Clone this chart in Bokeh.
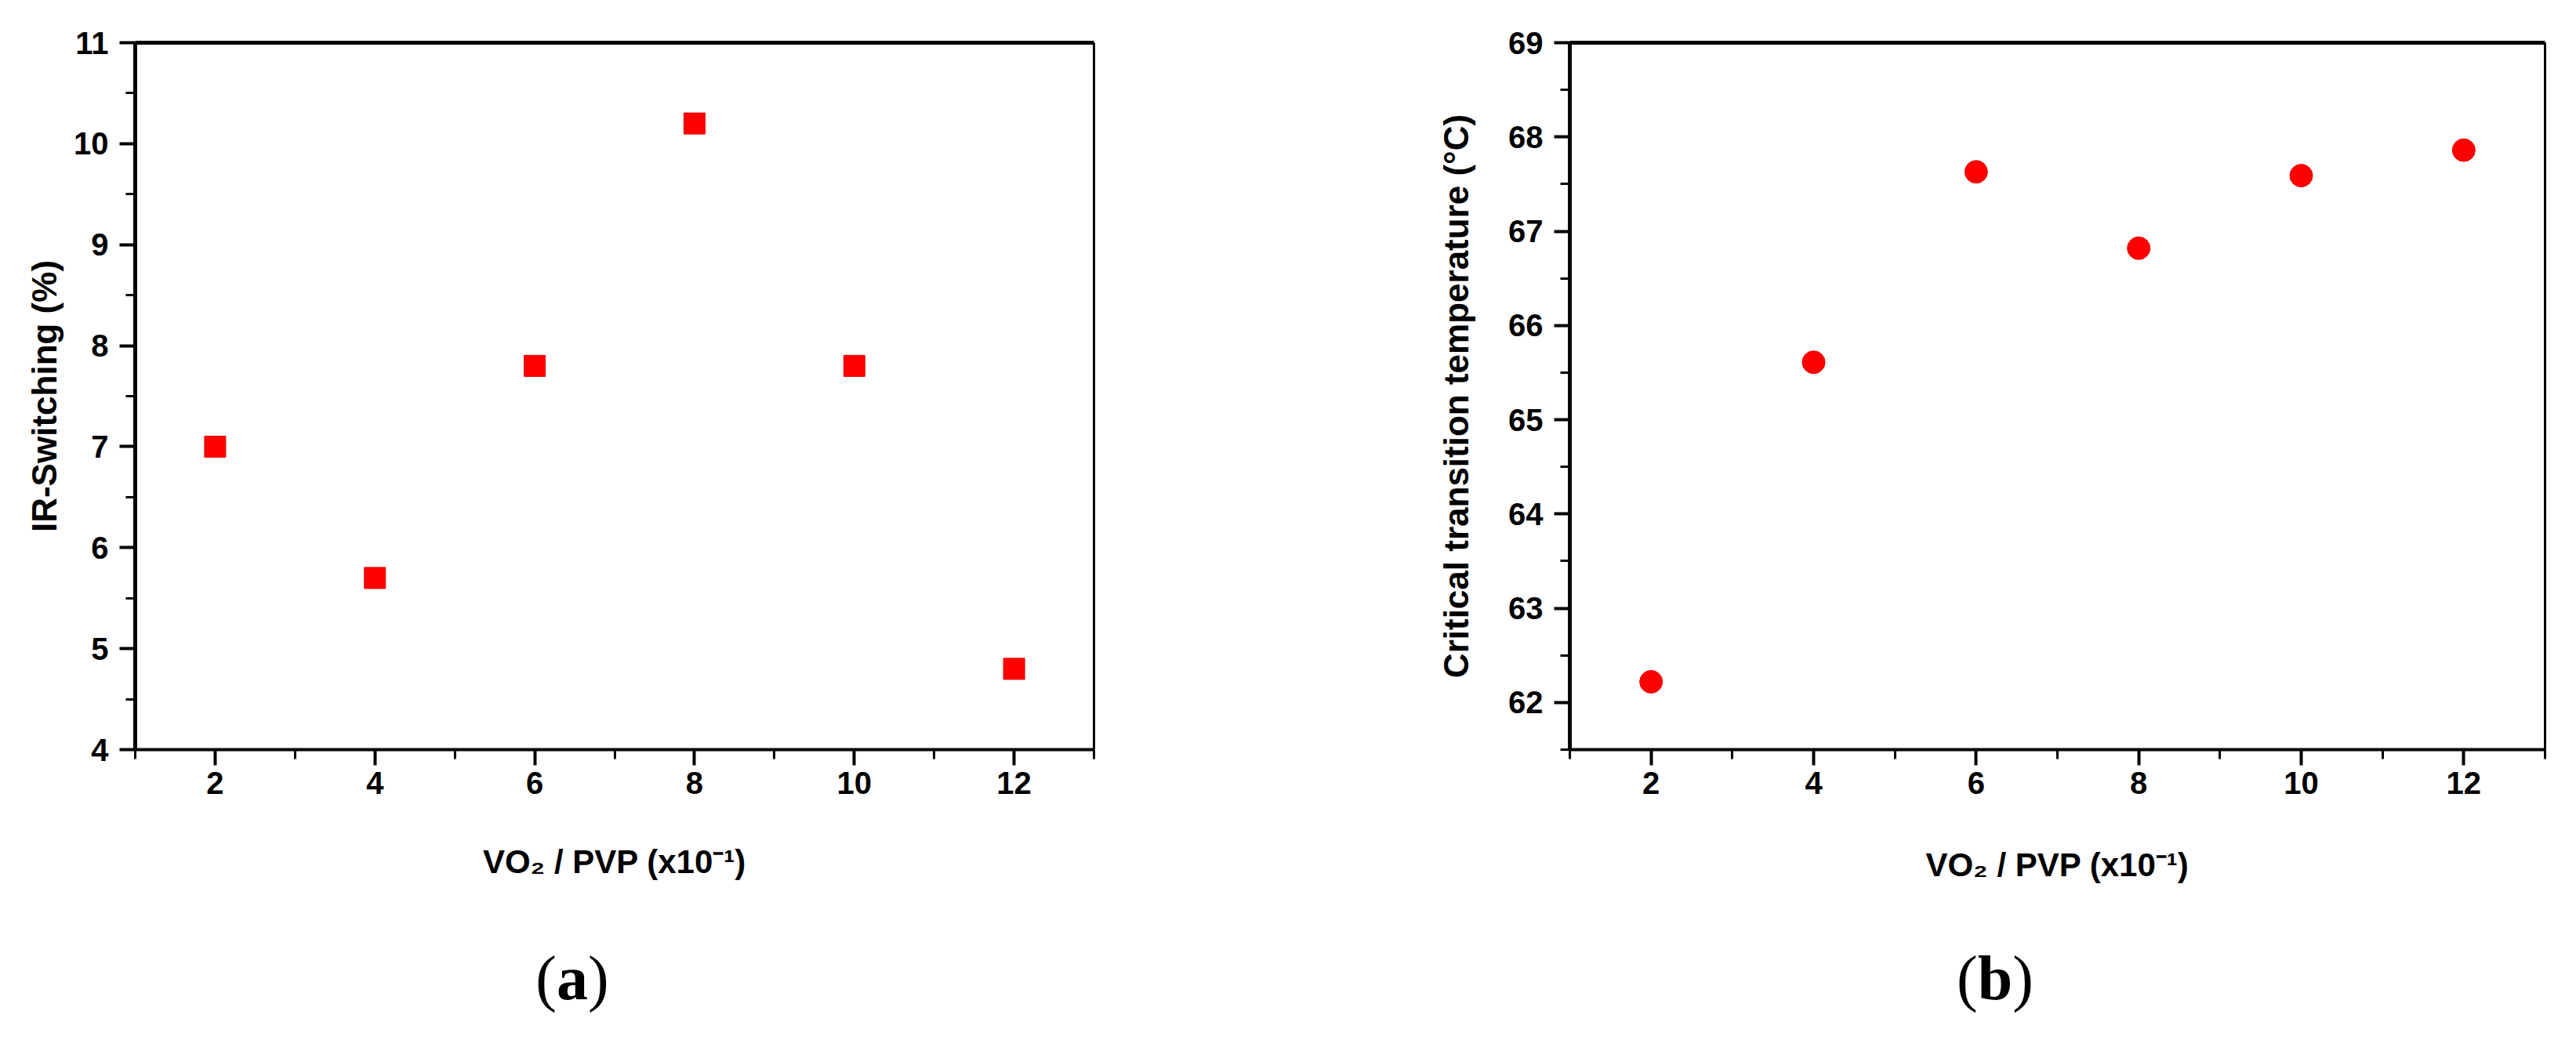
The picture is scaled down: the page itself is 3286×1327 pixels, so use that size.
from bokeh.plotting import figure
from bokeh.models import LinearAxis, SingleIntervalTicker, FixedTicker, Range1d, Div
from bokeh.layouts import row, column
from bokeh.embed import file_html
from bokeh.resources import INLINE

# ---- data ----
vo2_pvp_ratio = [2, 4, 6, 8, 10, 12]
ir_switching = [7.0, 5.7, 7.8, 10.2, 7.8, 4.8]
transition_temp = [62.22, 65.61, 67.63, 66.82, 67.59, 67.86]

x_label = "VO\u2082 / PVP (x10\u207b\u00b9)"
y_label_a = "IR-Switching (%)"
y_label_b = "Critical transition temperature (\u00b0C)"
panel_a = "a"
panel_b = "b"

FONT = "Liberation Sans"


def style_axis(ax, major_out, minor_out, line_w, label_standoff, tick_standoff, title_size):
    ax.axis_line_width = line_w
    ax.axis_line_color = "black"
    ax.major_tick_line_width = 4
    ax.minor_tick_line_width = 3
    ax.major_tick_line_color = "black"
    ax.minor_tick_line_color = "black"
    ax.major_tick_in = 0
    ax.major_tick_out = major_out
    ax.minor_tick_in = 0
    ax.minor_tick_out = minor_out
    ax.major_label_text_font = FONT
    ax.major_label_text_font_size = "40px"
    ax.major_label_text_font_style = "bold"
    ax.major_label_text_color = "black"
    ax.major_label_standoff = tick_standoff
    ax.axis_label_text_font = FONT
    ax.axis_label_text_font_size = title_size
    ax.axis_label_text_font_style = "bold"
    ax.axis_label_text_color = "black"
    ax.axis_label_standoff = label_standoff


def plain_axis(width):
    return LinearAxis(
        ticker=FixedTicker(ticks=[]),
        axis_line_width=width,
        axis_line_color="black",
        major_label_text_font_size="0px",
        major_tick_line_color=None,
        minor_tick_line_color=None,
    )


def make_fig(W, H, left, right, top, bottom, yr, ylab, ystandoff, xstandoff):
    p = figure(
        width=W, height=H,
        x_range=Range1d(1, 13), y_range=Range1d(*yr),
        output_backend="svg", toolbar_location=None,
        min_border_left=left, min_border_right=right,
        min_border_top=top, min_border_bottom=bottom,
    )
    p.xgrid.visible = False
    p.ygrid.visible = False
    p.outline_line_color = None
    p.background_fill_color = "white"
    p.border_fill_color = "white"

    xa = p.xaxis[0]
    xa.ticker = SingleIntervalTicker(interval=2, num_minor_ticks=2)
    style_axis(xa, 20, 12, 4, xstandoff, 8, "42px")
    xa.axis_label = x_label

    ya = p.yaxis[0]
    ya.ticker = SingleIntervalTicker(interval=1, num_minor_ticks=2)
    style_axis(ya, 20, 12, 5, ystandoff, 14, "44px")
    ya.axis_label = ylab

    p.add_layout(plain_axis(5), "above")
    p.add_layout(plain_axis(3), "right")
    return p


# panel (a)
p1 = make_fig(1640, 1180, 172, 245, 54, 224, (4, 11), y_label_a, 10, 60)
p1.scatter(vo2_pvp_ratio, ir_switching, marker="square", size=27,
           fill_color="#ff0000", line_color="#e80000", line_width=1)

# panel (b)
p2 = make_fig(1630, 1180, 362, 24, 48, 215, (61.5, 69), y_label_b, 39, 64)
p2.scatter(vo2_pvp_ratio, transition_temp, marker="circle", size=29,
           fill_color="#ff0000", line_color="#e80000", line_width=1)


def panel_div(letter, cx, W):
    html = (
        '<div style="margin-left:%dpx;width:400px;text-align:center;'
        "font-family:'Liberation Serif';font-size:80px;line-height:1;"
        'padding-top:28px;color:black">(<b>%s</b>)</div>' % (cx - 200, letter)
    )
    return Div(text=html, width=W, height=123, margin=0)


d1 = panel_div(panel_a, 730, 1640)
d2 = panel_div(panel_b, 905, 1630)

layout = column(row(p1, p2, spacing=0), row(d1, d2, spacing=0), spacing=0)

open("out.html", "w").write(file_html(layout, INLINE))
